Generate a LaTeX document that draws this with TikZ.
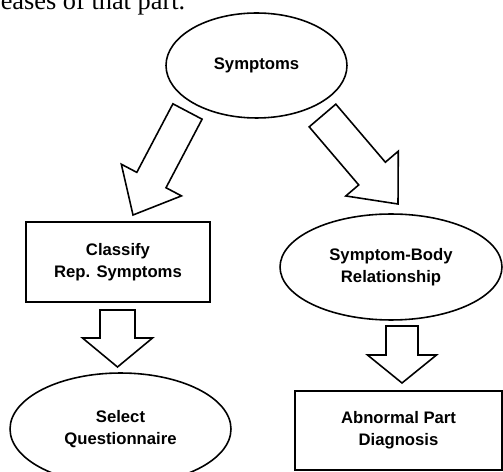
\documentclass[tikz,border=0pt]{standalone}
\usepackage{fontspec}
\setmainfont{Liberation Sans}
\newfontfamily\capfont{Liberation Serif}
\usetikzlibrary{shapes.geometric,calc}

\begin{document}
\begin{tikzpicture}[
        x=0.02cm, y=-0.02cm,
        line width=0.9pt,
        every node/.style={font=\bfseries\fontsize{9.5}{12.5}\selectfont, align=center, inner sep=0pt},
        oval/.style={ellipse, draw},
        box/.style={rectangle, draw},
        bigarrow/.style args={#1/#2/#3}{to path={
            ($(\tikztostart)!#1!90:(\tikztotarget)$)
            -- ($(\tikztotarget)!#3!(\tikztostart)!#1!-90:(\tikztostart)$)
            -- ($(\tikztotarget)!#3!(\tikztostart)!#2!-90:(\tikztostart)$)
            -- (\tikztotarget)
            -- ($(\tikztotarget)!#3!(\tikztostart)!#2!90:(\tikztostart)$)
            -- ($(\tikztotarget)!#3!(\tikztostart)!#1!90:(\tikztostart)$)
            -- ($(\tikztostart)!#1!-90:(\tikztotarget)$)
            -- cycle}}
    ]
        \useasboundingbox (0,0) rectangle (503,472);

        \node[anchor=base west, font=\capfont\fontsize{15}{18}\selectfont] (cap) at (0,10) {eases of that part.};

        \node[oval, minimum width=3.62cm, minimum height=2.10cm] (sym) at (256.5,65.5) {Symptoms};
        \node[box, minimum width=3.68cm, minimum height=1.60cm] (cls) at (118,262) {Classify\\Rep. Symptoms};
        \node[oval, minimum width=4.44cm, minimum height=2.12cm] (rel) at (391,267) {Symptom-Body\\Relationship};
        \node[oval, minimum width=4.42cm, minimum height=2.24cm] (sel) at (120.5,429) {Select\\Questionnaire};
        \node[box, minimum width=4.14cm, minimum height=1.58cm] (abn) at (398.5,430.5) {Abnormal Part\\Diagnosis};

        % block arrows
        \coordinate (l1) at (187.5,111.5);
        \coordinate (l2) at (133,215);
        \coordinate (r1) at (322.5,115.5);
        \coordinate (r2) at (398,204);
        \coordinate (ld1) at (117.5,310);
        \coordinate (ld2) at (117.5,367);
        \coordinate (rd1) at (402,326);
        \coordinate (rd2) at (402,383);

        \draw[bigarrow=0.33cm/0.68cm/0.79cm] (l1) to (l2);
        \draw[bigarrow=0.35cm/0.69cm/0.80cm] (r1) to (r2);
        \draw[bigarrow=0.35cm/0.70cm/0.58cm] (ld1) to (ld2);
        \draw[bigarrow=0.32cm/0.69cm/0.56cm] (rd1) to (rd2);
    \end{tikzpicture}
\end{document}
